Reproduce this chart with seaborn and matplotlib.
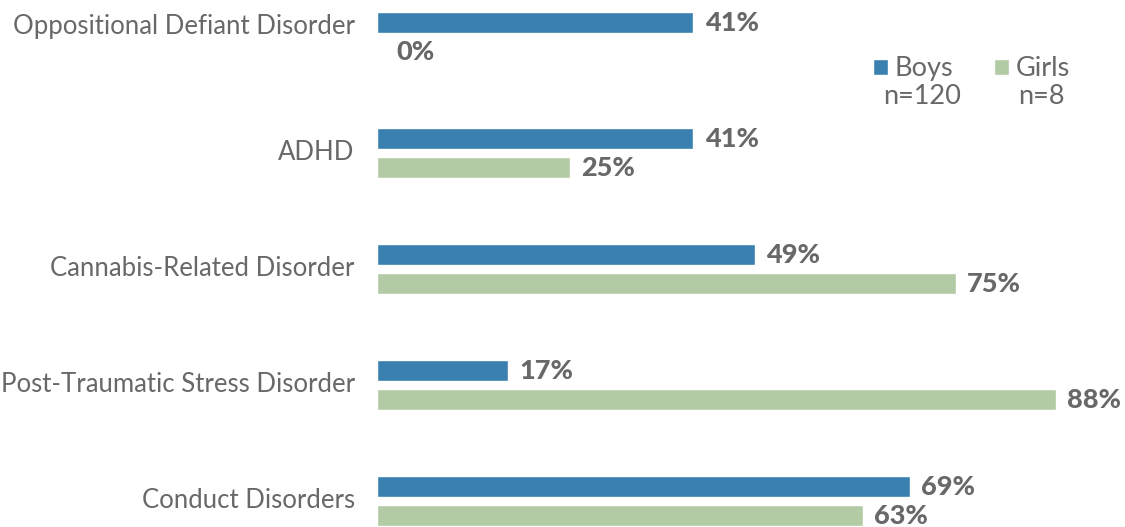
import matplotlib
matplotlib.use("Agg")
import matplotlib.pyplot as plt
import matplotlib.transforms as mtransforms
import seaborn as sns
import pandas as pd

categories = ["Oppositional Defiant Disorder", "ADHD", "Cannabis-Related Disorder",
              "Post-Traumatic Stress Disorder", "Conduct Disorders"]
boys = [41, 41, 49, 17, 69]
girls = [0, 25, 75, 88, 63]
groups = ["Boys", "Girls"]
group_n = ["n=120", "n=8"]

df = pd.DataFrame({
    "Disorder": categories * 2,
    "Percent": boys + girls,
    "Group": [groups[0]] * len(categories) + [groups[1]] * len(categories),
})

sns.set_theme(style="white")
plt.rcParams["font.family"] = ["Lato", "DejaVu Sans"]

TEXT = "#686868"
palette = {"Boys": "#3A80B0", "Girls": "#B3CBA5"}

fig = plt.figure(figsize=(11.25, 5.27), dpi=100)
ax = fig.add_axes([377 / 1125, 0, 1 - 377 / 1125, 1])

sns.barplot(data=df, y="Disorder", x="Percent", hue="Group", order=categories,
            hue_order=groups, palette=palette, orient="h", width=0.5, gap=0.28,
            saturation=1, legend=True, ax=ax)

for cont in ax.containers:
    anns = ax.bar_label(cont, fmt="%.0f%%", padding=8, fontsize=19.5, fontweight=900,
                        color=TEXT)
    for ann, bar in zip(anns, cont):
        if bar.get_width() == 0:
            ann.xyann = (ann.xyann[0] + 6, ann.xyann[1])

ax.set_xlim(0, 96.9)
ax.set_ylim(4.224, -0.319)
ax.set_xlabel("")
ax.set_ylabel("")
ax.set_xticks([])
ax.tick_params(axis="y", length=0, pad=16, labelsize=18.5, labelcolor=TEXT)
for s in ax.spines.values():
    s.set_visible(False)

# small vertical nudges of the category labels
shifts_px = [13, 3, 3, 3, 3]
for lab, dy in zip(ax.get_yticklabels(), shifts_px):
    lab.set_transform(lab.get_transform() +
                      mtransforms.ScaledTranslation(0, dy / 100, fig.dpi_scale_trans))

leg = ax.legend(ncol=2, frameon=False, fontsize=19.5, labelcolor=TEXT,
                handlelength=0.55, handleheight=0.55, handletextpad=0.25,
                columnspacing=1.5, loc="center left", borderpad=0,
                borderaxespad=0,
                bbox_to_anchor=((873 - 377) / (1125 - 377), 1 - 69 / 527))
fig.text(922 / 1125, 1 - 97 / 527, group_n[0], ha="center", va="center",
         fontsize=19.5, color=TEXT)
fig.text(1041 / 1125, 1 - 97 / 527, group_n[1], ha="center", va="center",
         fontsize=19.5, color=TEXT)

fig.savefig("out.png", dpi=100)
